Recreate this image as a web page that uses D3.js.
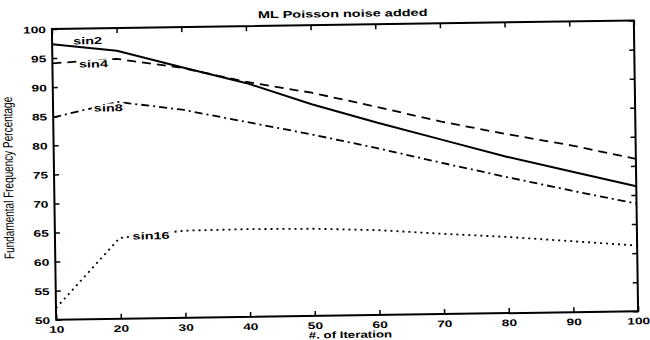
<!DOCTYPE html>
<html><head><meta charset="utf-8">
<script src="https://cdn.jsdelivr.net/npm/d3@7"></script>
<style>body{margin:0;background:#fff}svg{display:block}</style>
</head><body>
<svg id="c" width="650" height="340"></svg>
<script>
// ---- data ----
const iterations = [10, 20, 30, 40, 50, 60, 70, 80, 90, 100];
const sin2  = [97.4, 96.1, 93.1, 90.2, 86.4, 83.1, 80.0, 76.9, 74.2, 71.5];
const sin4  = [94.1, 94.7, 93.0, 90.4, 88.4, 85.8, 83.1, 80.8, 78.7, 76.2];
const sin8  = [84.8, 87.3, 85.8, 83.5, 81.2, 78.7, 76.0, 73.4, 70.9, 68.5];
const sin16 = [52.0, 63.9, 65.0, 65.1, 65.0, 64.6, 63.8, 63.1, 62.2, 61.3];
const seriesNames = ["sin2", "sin4", "sin8", "sin16"];
const xTicks = [10, 20, 30, 40, 50, 60, 70, 80, 90, 100];
const yTicks = [50, 55, 60, 65, 70, 75, 80, 85, 90, 95, 100];
const title = "ML Poisson noise added";
const xLabel = "#. of Iteration";
const yLabel = "Fundamental Frequency Percentage";
// label anchor points (data coordinates) for the in-plot series names
const labelIter  = [13.25, 14.1, 16.3, 22.0];
const labelValue = [97.3, 93.3, 85.7, 63.6];

// ---- layout / style ----
const W = 650, H = 340;
const m = {left: 54, right: 636, top: 24.75, bottom: 315.5};
const FONT = "'Liberation Sans', Arial, Helvetica, sans-serif";
const SX = 1.45;
const lineStyles = [
  {dash: null, w: 2},
  {dash: "9,6", w: 1.8},
  {dash: "8,4,2,4", w: 1.8},
  {dash: "2,4", w: 1.8}
];

const x = d3.scaleLinear().domain([10, 100]).range([m.left, m.right]);
const y = d3.scaleLinear().domain([50, 100]).range([m.bottom, m.top]);

const svg = d3.select("#c");
svg.append("rect").attr("width", W).attr("height", H).attr("fill", "#fff");
const g = svg.append("g").attr("transform", "rotate(-0.84,345,170)");

// series lines
const allSeries = [sin2, sin4, sin8, sin16];
const line = d3.line().x((d, i) => x(iterations[i])).y(d => y(d));
allSeries.forEach((vals, k) => {
  g.append("path")
    .datum(vals)
    .attr("d", line)
    .attr("fill", "none")
    .attr("stroke", "#000")
    .attr("stroke-width", lineStyles[k].w)
    .attr("stroke-dasharray", lineStyles[k].dash)
    .attr("stroke-linejoin", "round");
});

// series labels
seriesNames.forEach((name, k) => {
  const lx = x(labelIter[k]), ly = y(labelValue[k]);
  const t = g.append("text")
    .attr("transform", `translate(${lx},${ly}) scale(${SX},1)`)
    .attr("font-family", FONT).attr("font-weight", "bold").attr("font-size", 10)
    .attr("fill", "#000").text(name);
  if (k > 0) {
    const bb = t.node().getBBox();
    g.insert("rect", function(){ return t.node(); })
      .attr("x", lx + bb.x * SX - 2).attr("y", ly + bb.y + 1)
      .attr("width", bb.width * SX + 4).attr("height", bb.height - 2)
      .attr("fill", "#fff");
  }
});

// axes
function styleAxis(sel) {
  sel.select(".domain").remove();
  sel.selectAll(".tick line").attr("stroke", "#000").attr("stroke-width", 1.5);
}
g.append("g").attr("transform", `translate(0,${m.bottom})`)
  .call(d3.axisBottom(x).tickValues(xTicks).tickSize(-5).tickFormat(d3.format("d")))
  .call(styleAxis)
  .call(a => a.selectAll(".tick text")
    .attr("x", null).attr("y", null).attr("dy", null)
    .attr("transform", `translate(0,13) scale(${SX},1)`)
    .attr("font-family", FONT).attr("font-weight", "bold").attr("font-size", 9.5)
    .attr("fill", "#000"));
g.append("g").attr("transform", `translate(0,${m.top})`)
  .call(d3.axisTop(x).tickValues(xTicks).tickSize(-5).tickFormat(""))
  .call(styleAxis);
g.append("g").attr("transform", `translate(${m.left},0)`)
  .call(d3.axisLeft(y).tickValues(yTicks).tickSize(-5).tickFormat(d3.format("d")))
  .call(styleAxis)
  .call(a => a.selectAll(".tick text")
    .attr("x", null).attr("y", null).attr("dy", null)
    .attr("text-anchor", "end")
    .attr("transform", `translate(-6,3.5) scale(${SX},1)`)
    .attr("font-family", FONT).attr("font-weight", "bold").attr("font-size", 9.5)
    .attr("fill", "#000"));
g.append("g").attr("transform", `translate(${m.right},0)`)
  .call(d3.axisRight(y).tickValues(yTicks).tickSize(-5).tickFormat(""))
  .call(styleAxis);

// box
g.append("rect")
  .attr("x", m.left).attr("y", m.top)
  .attr("width", m.right - m.left).attr("height", m.bottom - m.top)
  .attr("fill", "none").attr("stroke", "#000").attr("stroke-width", 2);

// title & axis labels
g.append("text")
  .attr("transform", `translate(345,17) scale(${SX},1)`)
  .attr("text-anchor", "middle")
  .attr("font-family", FONT).attr("font-weight", "bold").attr("font-size", 10)
  .text(title);
g.append("text")
  .attr("transform", `translate(348,338) scale(${SX - 0.05},1)`)
  .attr("text-anchor", "middle")
  .attr("font-family", FONT).attr("font-weight", "bold").attr("font-size", 9.5)
  .text(xLabel);
g.append("text")
  .attr("transform", `translate(13,173) scale(1.4,1) rotate(-90)`)
  .attr("text-anchor", "middle")
  .attr("font-family", FONT).attr("font-size", 10)
  .text(yLabel);
</script>
</body></html>
